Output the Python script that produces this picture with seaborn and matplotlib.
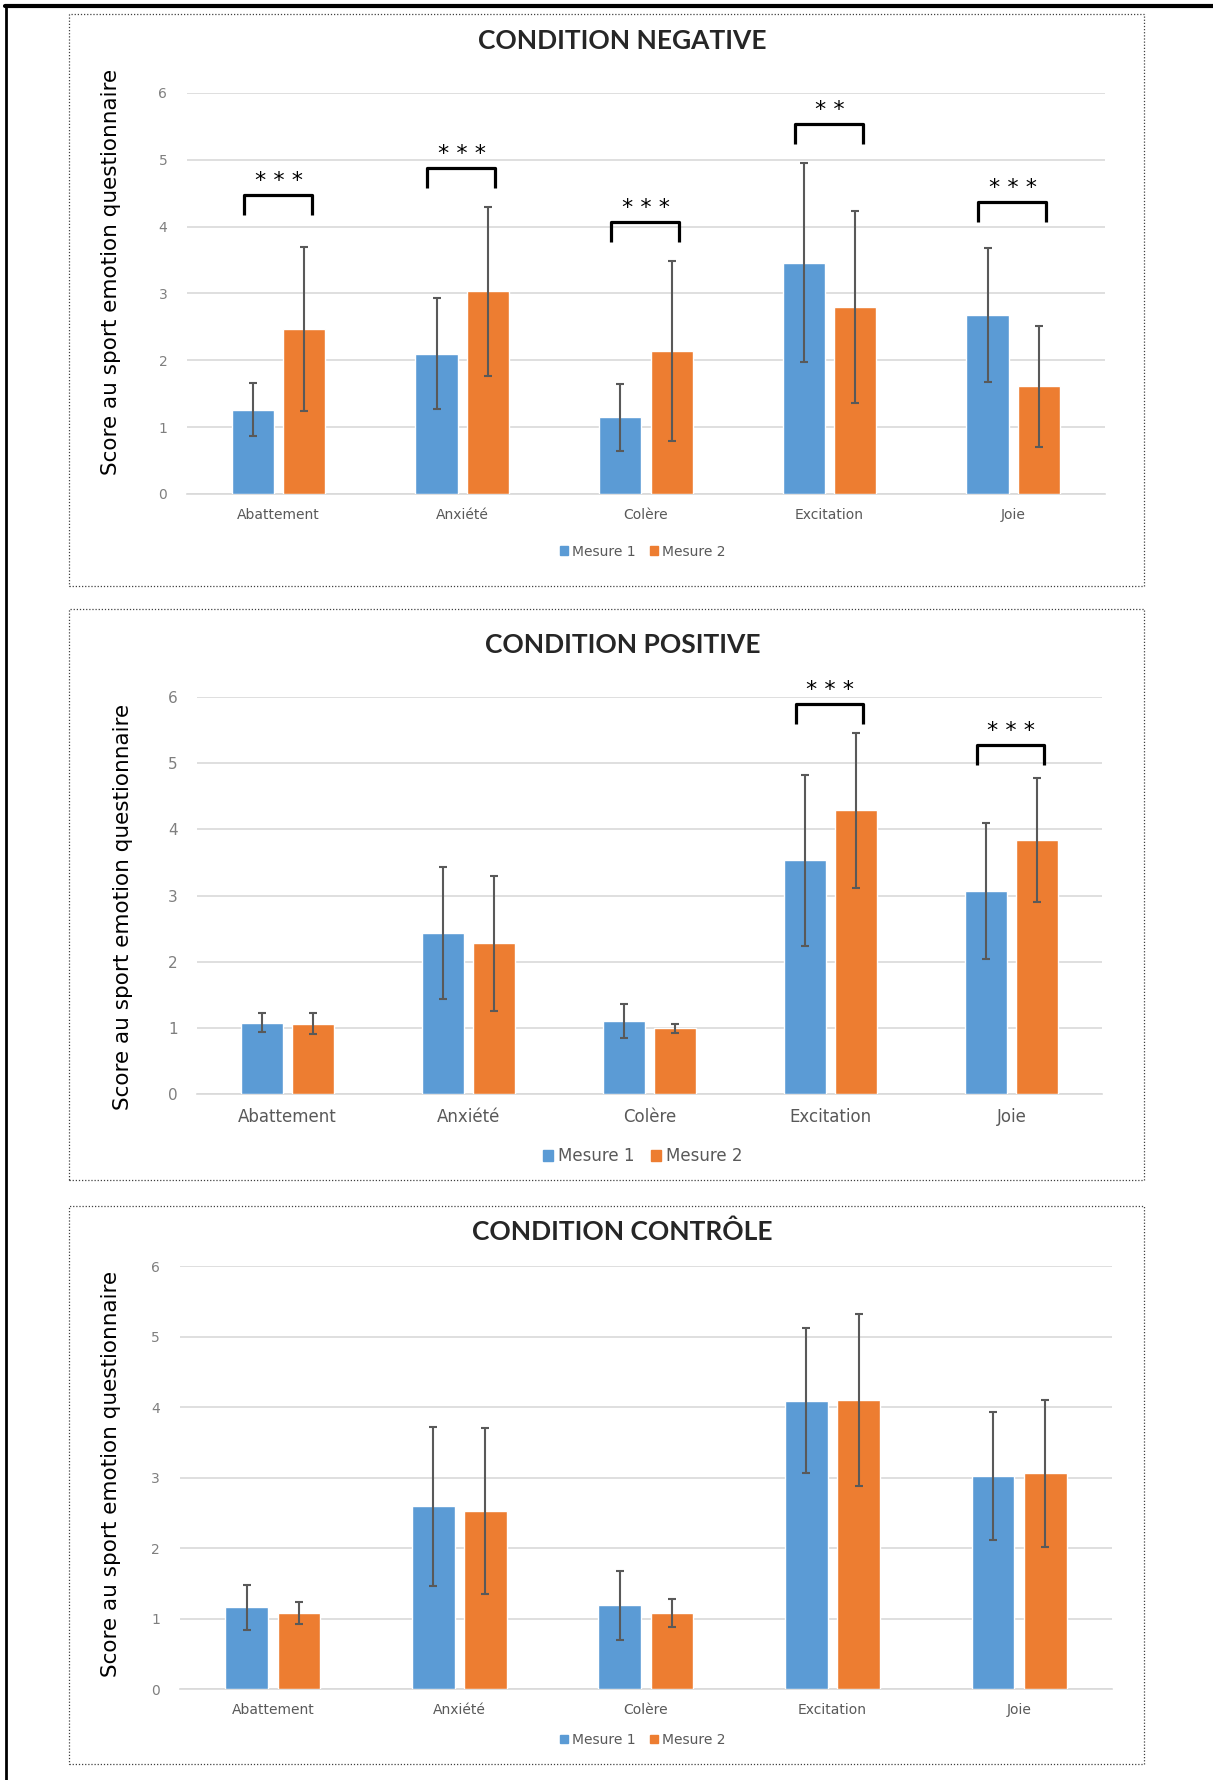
import numpy as np
import pandas as pd
import matplotlib
matplotlib.use('Agg')
import matplotlib.pyplot as plt
import seaborn as sns
from matplotlib.patches import Rectangle
from matplotlib.lines import Line2D

emotions = ['Abattement', 'Anxiété', 'Colère', 'Excitation', 'Joie']
mesures = ['Mesure 1', 'Mesure 2']

# condition negative
neg_m1 = [1.26, 2.10, 1.15, 3.46, 2.68]
neg_m2 = [2.47, 3.03, 2.14, 2.80, 1.61]
neg_sd1 = [0.40, 0.83, 0.50, 1.49, 1.00]
neg_sd2 = [1.23, 1.27, 1.35, 1.44, 0.91]
neg_stars = ['***', '***', '***', '**', '***']
neg_brackets = [4.47, 4.88, 4.07, 5.53, 4.37]

# condition positive
pos_m1 = [1.08, 2.43, 1.10, 3.53, 3.07]
pos_m2 = [1.06, 2.28, 0.99, 4.29, 3.84]
pos_sd1 = [0.15, 1.00, 0.26, 1.29, 1.03]
pos_sd2 = [0.16, 1.02, 0.07, 1.17, 0.94]
pos_stars = ['', '', '', '***', '***']
pos_brackets = [None, None, None, 5.90, 5.28]

# condition controle
ctl_m1 = [1.16, 2.59, 1.19, 4.09, 3.02]
ctl_m2 = [1.08, 2.53, 1.08, 4.10, 3.06]
ctl_sd1 = [0.32, 1.13, 0.49, 1.03, 0.91]
ctl_sd2 = [0.16, 1.18, 0.20, 1.22, 1.04]

colors = ['#5B9BD5', '#ED7D31']
ylabel = 'Score au sport emotion questionnaire'

sns.set_style('white')
plt.rcParams['font.family'] = ['DejaVu Sans']

fig = plt.figure(figsize=(12.13, 17.80), dpi=100)


def draw_panel(rect, title, title_y, m1, m2, sd1, sd2, stars, brackets,
               ylab_x, ylab_y, leg_y, tick_size, cat_size):
    ax = fig.add_axes(rect)
    df = pd.DataFrame({
        'emotion': emotions * 2,
        'mesure': [mesures[0]] * 5 + [mesures[1]] * 5,
        'score': m1 + m2,
    })
    sns.barplot(data=df, x='emotion', y='score', hue='mesure', palette=colors,
                width=0.56, gap=0.18, errorbar=None, saturation=1, ax=ax,
                zorder=3)
    for cont, sd in zip(ax.containers, [sd1, sd2]):
        xs = [p.get_x() + p.get_width() / 2 for p in cont.patches]
        ys = [p.get_height() for p in cont.patches]
        ax.errorbar(xs, ys, yerr=sd, fmt='none', ecolor='#595959',
                    elinewidth=1.5, capsize=3, capthick=1.5, zorder=4)
    # significance brackets
    for i, (s, b) in enumerate(zip(stars, brackets)):
        if b is None:
            continue
        leg = 0.3
        ax.plot([i - 0.19, i - 0.19, i + 0.18, i + 0.18],
                [b - leg, b, b, b - leg], color='black', lw=2.3,
                solid_capstyle='butt', zorder=5)
        ax.text(i, b + 0.06, ' '.join(s), ha='center', va='bottom',
                fontsize=16, color='black')
    ax.set_xlim(-0.5, 4.5)
    ax.set_ylim(0, 6)
    ax.set_yticks(range(7))
    ax.yaxis.grid(True, color='#D9D9D9', lw=1.2, zorder=0)
    ax.set_axisbelow(True)
    for sp in ['top', 'right', 'left']:
        ax.spines[sp].set_visible(False)
    ax.spines['bottom'].set_color('#D9D9D9')
    ax.spines['bottom'].set_linewidth(1.2)
    ax.tick_params(axis='y', length=0, labelsize=tick_size,
                   labelcolor='#7F7F7F', pad=14)
    ax.tick_params(axis='x', length=0, labelsize=cat_size,
                   labelcolor='#595959', pad=10)
    ax.set_xlabel('')
    ax.set_ylabel('')
    ax.get_legend().remove()
    fig.text(ylab_x, ylab_y, ylabel, rotation=90, ha='center', va='center',
             fontsize=15.5, color='black')
    fig.text(0.513, title_y, title, ha='center', va='center', fontsize=19,
             fontweight='bold', family='Lato')
    handles = [Rectangle((0, 0), 1, 1, color=c) for c in colors]
    fig.legend(handles, mesures, loc='center', bbox_to_anchor=(0.53, leg_y),
               ncol=2, frameon=False, fontsize=cat_size, handlelength=0.6,
               handleheight=0.6, handletextpad=0.3, columnspacing=1.0,
               labelcolor='#595959')
    return ax


draw_panel([0.154, 0.7225, 0.757, 0.2253], 'CONDITION NEGATIVE', 0.977,
           neg_m1, neg_m2, neg_sd1, neg_sd2, neg_stars, neg_brackets,
           0.0915, 0.847, 0.690, 10, 10)
draw_panel([0.1624, 0.3854, 0.746, 0.223], 'CONDITION POSITIVE', 0.6376,
           pos_m1, pos_m2, pos_sd1, pos_sd2, pos_stars, pos_brackets,
           0.101, 0.4905, 0.3505, 11, 12)
draw_panel([0.148, 0.0511, 0.769, 0.2376], 'CONDITION CONTRÔLE', 0.308,
           ctl_m1, ctl_m2, ctl_sd1, ctl_sd2, [''] * 5, [None] * 5,
           0.0915, 0.172, 0.0225, 10, 10)

# dotted frames around each panel
for y0, y1 in [(13.6, 586), (609, 1180), (1206, 1764)]:
    fig.patches.append(Rectangle((69 / 1213, 1 - y1 / 1780),
                                 (1144 - 69) / 1213, (y1 - y0) / 1780,
                                 transform=fig.transFigure, fill=False,
                                 ec='#404040', lw=0.9, ls=(0, (1, 1.5))))

# black outer border on top and left
fig.lines.append(Line2D([0.004, 1.0], [0.9965, 0.9965], color='black', lw=3,
                        transform=fig.transFigure))
fig.lines.append(Line2D([0.005, 0.005], [0.0, 0.997], color='black', lw=2,
                        transform=fig.transFigure))

fig.savefig('out.png', dpi=100)
print('saved out.png')
